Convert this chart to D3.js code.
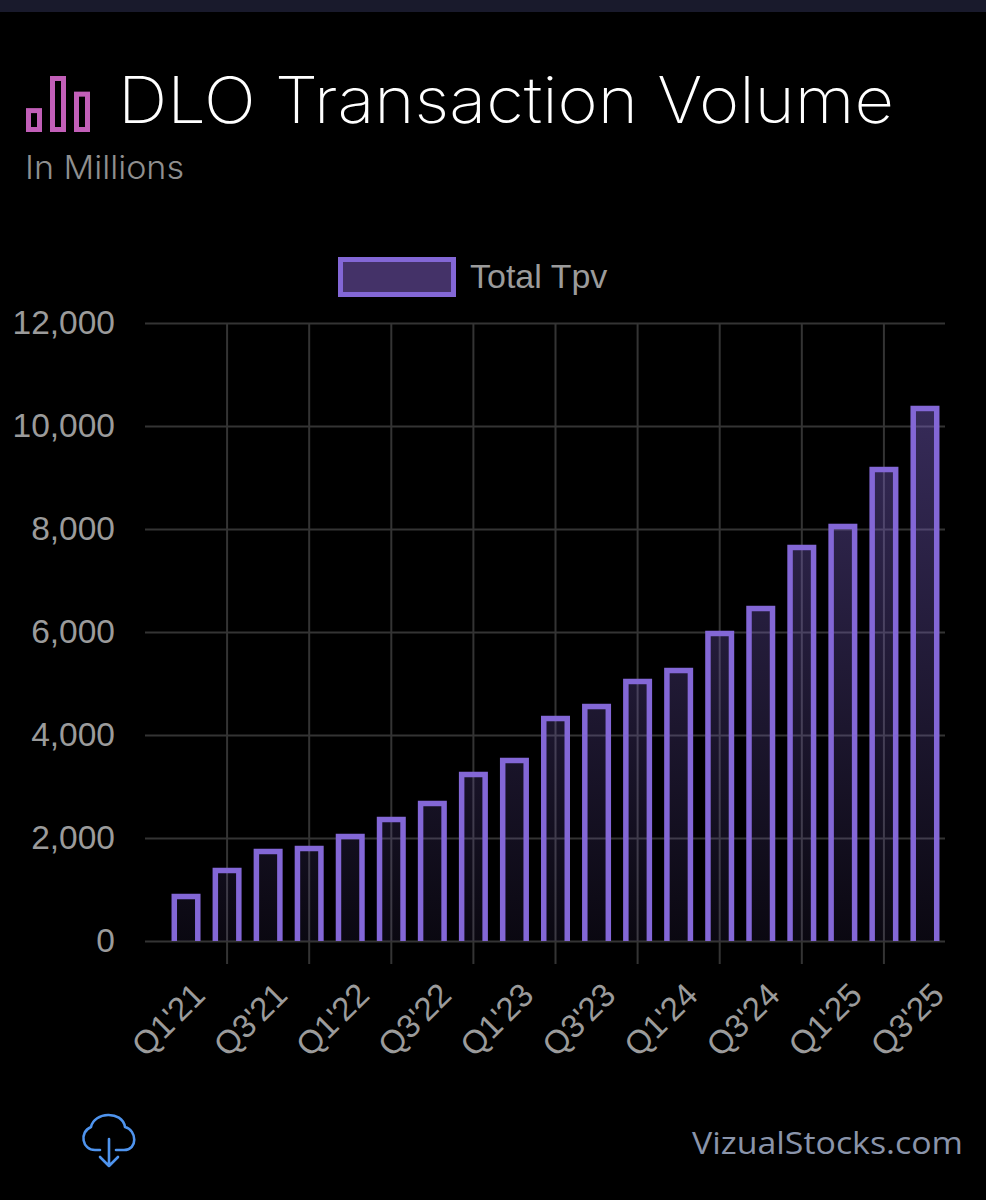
<!DOCTYPE html>
<html>
<head>
<meta charset="utf-8">
<script src="https://d3js.org/d3.v7.min.js"></script>
<style>
html, body { margin: 0; padding: 0; background: #000; }
svg { display: block; }
</style>
</head>
<body>
<div id="chart"></div>
<script>
var quarters = ["Q1'21", "Q2'21", "Q3'21", "Q4'21", "Q1'22", "Q2'22", "Q3'22", "Q4'22", "Q1'23", "Q2'23",
    "Q3'23", "Q4'23", "Q1'24", "Q2'24", "Q3'24", "Q4'24", "Q1'25", "Q2'25", "Q3'25"];
var totalTpv = [864, 1369, 1738, 1796, 2029, 2359, 2670, 3233, 3505, 4320,
    4553, 5039, 5252, 5971, 6456, 7641, 8049, 9155, 10340];
var yTicks = [0, 2000, 4000, 6000, 8000, 10000, 12000];
var iconBars = [1.45, 3.4, 2.45]; // heights of the little logo bars

var width = 986,
    height = 1200,
    plotLeft = 145,
    plotRight = 945,
    plotTop = 323,
    plotBottom = 941,
    bandLeft = 165.5,
    barBorder = 5.5,
    borderColor = "#8367d6",
    gridColor = "#343434",
    labelColor = "#9b9b9b",
    axisFont = "'Liberation Sans', Arial, sans-serif",
    titleFont = "Inter, 'Open Sans', sans-serif";

var svg = d3.select("#chart").append("svg")
    .attr("width", width)
    .attr("height", height);

// Strip of the app header at the very top
svg.append("rect").attr("width", width).attr("height", 12).attr("fill", "#191a2c");

var defs = svg.append("defs");

var gradient = defs.append("linearGradient")
    .attr("id", "barFill")
    .attr("gradientUnits", "userSpaceOnUse")
    .attr("x1", 0).attr("x2", 0)
    .attr("y1", 400).attr("y2", plotBottom);
gradient.append("stop").attr("offset", 0).attr("stop-color", "#8367d6").attr("stop-opacity", 0.42);
gradient.append("stop").attr("offset", 1).attr("stop-color", "#8367d6").attr("stop-opacity", 0.08);

// Bars are open at the bottom: the outline gets cut off at the zero line
defs.append("clipPath")
    .attr("id", "barClip")
    .append("rect")
    .attr("x", plotLeft).attr("y", plotTop - 10)
    .attr("width", plotRight - plotLeft + 5)
    .attr("height", plotBottom - plotTop + 10);

var xScale = d3.scaleBand().domain(quarters).range([bandLeft, plotRight + 0.5]);
var yScale = d3.scaleLinear().domain([0, 12000]).range([plotBottom, plotTop]);

// Title block
var iconScale = d3.scaleLinear().domain([0, 3.4]).range([132, 76]);
svg.append("g").selectAll("rect")
    .data(iconBars)
    .enter()
    .append("rect")
    .attr("x", function (d, i) { return 28.5 + i * 24; })
    .attr("y", function (d) { return iconScale(d) + 2.5; })
    .attr("width", 11)
    .attr("height", function (d) { return 129.5 - iconScale(d) - 2.5; })
    .attr("fill", "none")
    .attr("stroke", "#c25fb8")
    .attr("stroke-width", 5);

svg.append("text")
    .attr("x", 118).attr("y", 123)
    .attr("textLength", 776)
    .attr("lengthAdjust", "spacingAndGlyphs")
    .attr("fill", "#ffffff")
    .style("font-family", titleFont)
    .style("font-weight", 200)
    .style("font-size", "64px")
    .text("DLO Transaction Volume");

svg.append("text")
    .attr("x", 25).attr("y", 179)
    .attr("textLength", 159)
    .attr("lengthAdjust", "spacingAndGlyphs")
    .attr("fill", "#8f8f8f")
    .style("font-family", titleFont)
    .style("font-weight", 300)
    .style("font-size", "32px")
    .text("In Millions");

// Legend
svg.append("rect")
    .attr("x", 340.5).attr("y", 259.5)
    .attr("width", 113).attr("height", 35)
    .attr("fill", "#443268")
    .attr("stroke", borderColor)
    .attr("stroke-width", 5);

svg.append("text")
    .attr("x", 470).attr("y", 288)
    .attr("fill", labelColor)
    .style("font-family", axisFont)
    .style("font-size", "34px")
    .text("Total Tpv");

// Y axis with the horizontal grid lines
var yAxis = svg.append("g")
    .attr("transform", "translate(" + plotLeft + ",0)")
    .call(d3.axisLeft(yScale)
        .tickValues(yTicks)
        .tickSize(plotLeft - plotRight)
        .tickPadding(30)
        .tickFormat(d3.format(",")));
yAxis.select(".domain").remove();
yAxis.selectAll("line").attr("stroke", gridColor).attr("stroke-width", 2);
yAxis.selectAll("text")
    .attr("fill", labelColor)
    .style("font-family", axisFont)
    .style("font-size", "33.5px");

// Vertical grid lines only sit on every other bar, starting at the second
var gridAxis = svg.append("g")
    .attr("transform", "translate(0," + plotBottom + ")")
    .call(d3.axisBottom(xScale)
        .tickValues(quarters.filter(function (d, i) { return i % 2 === 1; }))
        .tickSize(23)
        .tickFormat(""));
gridAxis.select(".domain").remove();
gridAxis.selectAll("line")
    .attr("y1", plotTop - plotBottom)
    .attr("stroke", gridColor)
    .attr("stroke-width", 2);

// Labels sit on the other quarters, rotated and ending right of the bar
var xAxis = svg.append("g")
    .attr("transform", "translate(0," + plotBottom + ")")
    .call(d3.axisBottom(xScale)
        .tickValues(quarters.filter(function (d, i) { return i % 2 === 0; }))
        .tickSize(0)
        .tickPadding(0));
xAxis.select(".domain").remove();
xAxis.selectAll("text")
    .attr("fill", labelColor)
    .attr("text-anchor", "end")
    .attr("dy", 0)
    .attr("y", 0)
    .attr("transform", "translate(21,56) rotate(-45)")
    .style("font-family", axisFont)
    .style("font-size", "33px");

// Bars
var barWidth = 29 - barBorder;
svg.append("g")
    .attr("clip-path", "url(#barClip)")
    .selectAll("rect")
    .data(totalTpv)
    .enter()
    .append("rect")
    .attr("x", function (d, i) { return xScale(quarters[i]) + (xScale.bandwidth() - barWidth) / 2; })
    .attr("y", function (d) { return yScale(d); })
    .attr("width", barWidth)
    .attr("height", function (d) { return plotBottom + 4 - yScale(d); })
    .attr("fill", "url(#barFill)")
    .attr("stroke", borderColor)
    .attr("stroke-width", barBorder);

// Download icon
var icon = svg.append("g")
    .attr("fill", "none")
    .attr("stroke", "#4f94ee")
    .attr("stroke-width", 2.6)
    .attr("stroke-linecap", "round")
    .attr("stroke-linejoin", "round");
icon.append("path")
    .attr("d", "M100 1150 H95 C82 1150 79 1132 91 1127 C94 1112 122 1110 125 1127 C137 1130 138 1150 124 1150 H116");
icon.append("path").attr("d", "M109 1139 V1166 M100 1157 L109 1166 L118 1157");

svg.append("text")
    .attr("x", 692).attr("y", 1154)
    .attr("textLength", 271)
    .attr("lengthAdjust", "spacingAndGlyphs")
    .attr("fill", "#8a94aa")
    .style("font-family", "'Open Sans', sans-serif")
    .style("font-size", "31px")
    .text("VizualStocks.com");
</script>
</body>
</html>
